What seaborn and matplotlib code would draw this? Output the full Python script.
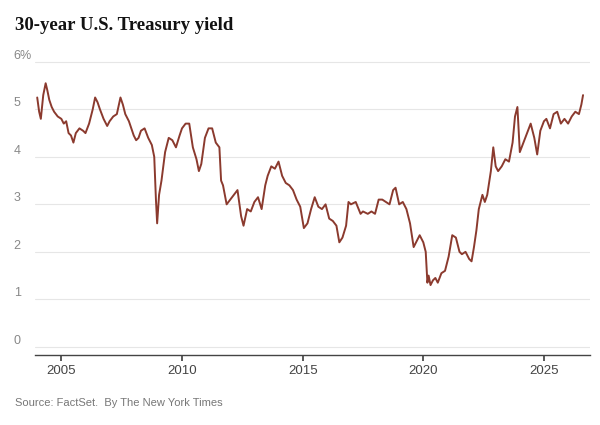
import matplotlib
matplotlib.use("Agg")
from matplotlib import pyplot as plt
import seaborn as sn
import pandas as pd

# Fechas (años decimales) y rendimiento a 30 años (%)
years = [2004.0, 2004.08, 2004.15, 2004.25, 2004.35, 2004.42, 2004.5, 2004.6, 2004.7, 2004.85,
         2005.0, 2005.1, 2005.2, 2005.3, 2005.4, 2005.5, 2005.6, 2005.75, 2005.9, 2006.0,
         2006.15, 2006.3, 2006.4, 2006.5, 2006.6, 2006.75, 2006.9, 2007.0, 2007.15, 2007.3,
         2007.45, 2007.55, 2007.65, 2007.8, 2007.9, 2008.0, 2008.1, 2008.2, 2008.3, 2008.45,
         2008.6, 2008.75, 2008.85, 2008.92, 2008.97, 2009.05, 2009.15, 2009.3, 2009.45, 2009.6,
         2009.75, 2009.9, 2010.0, 2010.15, 2010.3, 2010.45, 2010.6, 2010.7, 2010.8, 2010.95,
         2011.1, 2011.25, 2011.4, 2011.55, 2011.62, 2011.7, 2011.85, 2012.0, 2012.15, 2012.3,
         2012.45, 2012.55, 2012.7, 2012.85, 2013.0, 2013.15, 2013.3, 2013.45, 2013.55, 2013.7,
         2013.85, 2014.0, 2014.15, 2014.3, 2014.45, 2014.6, 2014.75, 2014.9, 2015.05, 2015.2,
         2015.35, 2015.5, 2015.65, 2015.8, 2015.95, 2016.1, 2016.25, 2016.4, 2016.52, 2016.65,
         2016.8, 2016.9, 2017.0, 2017.2, 2017.4, 2017.5, 2017.7, 2017.85, 2018.0, 2018.15,
         2018.3, 2018.45, 2018.6, 2018.75, 2018.85, 2019.0, 2019.15, 2019.3, 2019.45, 2019.6,
         2019.7, 2019.85, 2020.0, 2020.1, 2020.17, 2020.22, 2020.3, 2020.4, 2020.5, 2020.6,
         2020.75, 2020.9, 2021.05, 2021.2, 2021.35, 2021.5, 2021.6, 2021.75, 2021.9, 2022.0,
         2022.1, 2022.2, 2022.3, 2022.45, 2022.55, 2022.65, 2022.8, 2022.9, 2023.0, 2023.1,
         2023.25, 2023.4, 2023.55, 2023.7, 2023.8, 2023.9, 2024.0, 2024.15, 2024.3, 2024.45,
         2024.6, 2024.72, 2024.85, 2025.0, 2025.1, 2025.25, 2025.4, 2025.55, 2025.7, 2025.85,
         2026.0, 2026.15, 2026.3, 2026.45, 2026.55, 2026.62]
yields = [5.25, 4.95, 4.8, 5.3, 5.55, 5.4, 5.2, 5.05, 4.95, 4.85,
          4.8, 4.7, 4.75, 4.5, 4.45, 4.3, 4.5, 4.6, 4.55, 4.5,
          4.7, 5.0, 5.25, 5.15, 5.0, 4.8, 4.65, 4.75, 4.85, 4.9,
          5.25, 5.1, 4.9, 4.75, 4.6, 4.45, 4.35, 4.4, 4.55, 4.6,
          4.4, 4.25, 4.0, 3.1, 2.6, 3.2, 3.5, 4.1, 4.4, 4.35,
          4.2, 4.45, 4.6, 4.7, 4.7, 4.2, 3.95, 3.7, 3.85, 4.4,
          4.6, 4.6, 4.3, 4.2, 3.5, 3.4, 3.0, 3.1, 3.2, 3.3,
          2.75, 2.55, 2.9, 2.85, 3.05, 3.15, 2.9, 3.4, 3.6, 3.8,
          3.75, 3.9, 3.6, 3.45, 3.4, 3.3, 3.1, 2.95, 2.5, 2.6,
          2.9, 3.15, 2.95, 2.9, 3.0, 2.7, 2.65, 2.55, 2.2, 2.3,
          2.55, 3.05, 3.0, 3.05, 2.8, 2.85, 2.8, 2.85, 2.8, 3.1,
          3.1, 3.05, 3.0, 3.3, 3.35, 3.0, 3.05, 2.9, 2.6, 2.1,
          2.2, 2.35, 2.2, 2.0, 1.35, 1.5, 1.3, 1.4, 1.45, 1.35,
          1.55, 1.6, 1.9, 2.35, 2.3, 2.0, 1.95, 2.0, 1.85, 1.8,
          2.1, 2.45, 2.9, 3.2, 3.05, 3.2, 3.7, 4.2, 3.8, 3.7,
          3.8, 3.95, 3.9, 4.3, 4.85, 5.05, 4.1, 4.3, 4.5, 4.7,
          4.4, 4.05, 4.55, 4.75, 4.8, 4.6, 4.9, 4.95, 4.7, 4.8,
          4.7, 4.85, 4.95, 4.9, 5.1, 5.3]

df = pd.DataFrame({'fecha': years, 'rendimiento': yields})

sn.set_theme(style='white')
plt.rcParams['font.family'] = ['Liberation Sans', 'DejaVu Sans']

fig = plt.figure(figsize=(6, 4.25), dpi=100)
ax = fig.add_axes([0.058, 0.165, 0.925, 0.695])

for v in range(0, 7):
    ax.axhline(v, color='#e6e6e6', lw=0.8, zorder=0)

sn.lineplot(data=df, x='fecha', y='rendimiento', color='#8b3a2e', lw=1.4, ax=ax)

ax.set_xlim(2003.9, 2026.9)
ax.set_ylim(-0.17, 6.05)
ax.set_xticks([2005, 2010, 2015, 2020, 2025])
ax.set_xticklabels(['2005', '2010', '2015', '2020', '2025'], color='#444444', fontsize=9.5)
ax.set_yticks([])
ax.set_xlabel('')
ax.set_ylabel('')
for s in ['top', 'right', 'left']:
    ax.spines[s].set_visible(False)
ax.spines['bottom'].set_color('#444444')
ax.spines['bottom'].set_linewidth(1)
ax.tick_params(axis='x', length=4, color='#444444', pad=3, bottom=True)

ylabels = ['0', '1', '2', '3', '4', '5', '6%']
for i, lbl in enumerate(ylabels):
    ax.text(-0.038, i, lbl, transform=ax.get_yaxis_transform(), ha='left', va='bottom',
            fontsize=9, color='#888888')

fig.text(0.025, 0.94, '30-year U.S. Treasury yield', fontsize=13.5, fontweight='bold',
         family=['Liberation Serif', 'DejaVu Serif'], color='#121212', va='center')
fig.text(0.025, 0.052, 'Source: FactSet.  By The New York Times', fontsize=8,
         color='#777777', va='center')

fig.savefig('out.png', dpi=100)
